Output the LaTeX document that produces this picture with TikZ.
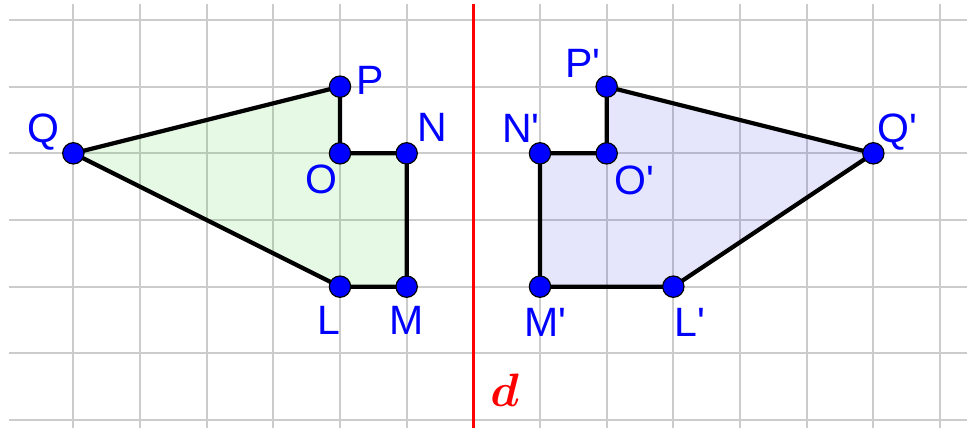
\RequirePackage{fix-cm}
\documentclass[tikz,border=0pt]{standalone}
\usepackage{fontspec}
\newfontfamily\lblfont{Liberation Sans}
\definecolor{gridgray}{RGB}{204,204,204}
\definecolor{ptblue}{RGB}{0,0,255}
\definecolor{fillgreen}{RGB}{0,200,0}
\definecolor{fillblue}{RGB}{0,0,220}
\tikzset{
  gridline/.style={gridgray, line width=1.6pt},
  poly/.style={black, line width=3.6pt, line join=round},
  dot/.style={circle, draw=black, line width=1pt, fill=ptblue, minimum size=0.64cm, inner sep=0pt},
  lbl/.style={text=ptblue, font=\lblfont\fontsize{35}{35}\selectfont, inner sep=0pt},
  axis/.style={red, line width=2.6pt}
}
\begin{document}
\begin{tikzpicture}[x=2cm,y=2cm]
\useasboundingbox[fill=white] (-1.1,-0.12) rectangle (13.405,6.3);
% grid
\foreach \y in {0,...,6} \draw[gridline] (-0.965,\y) -- (13.405,\y);
\foreach \x in {0,...,13} \draw[gridline] (\x,-0.12) -- (\x,6.24);
% points
\coordinate (Q) at (0,4);
\coordinate (P) at (4,5);
\coordinate (O) at (4,4);
\coordinate (N) at (5,4);
\coordinate (M) at (5,2);
\coordinate (L) at (4,2);
\coordinate (Q1) at (12,4);
\coordinate (P1) at (8,5);
\coordinate (O1) at (8,4);
\coordinate (N1) at (7,4);
\coordinate (M1) at (7,2);
\coordinate (L1) at (9,2);
% fills
\fill[fillgreen, fill opacity=0.1] (Q) -- (P) -- (O) -- (N) -- (M) -- (L) -- cycle;
\fill[fillblue, fill opacity=0.1] (Q1) -- (P1) -- (O1) -- (N1) -- (M1) -- (L1) -- cycle;
% outlines
\draw[poly] (Q) -- (P) -- (O) -- (N) -- (M) -- (L) -- cycle;
\draw[poly] (Q1) -- (P1) -- (O1) -- (N1) -- (M1) -- (L1) -- cycle;
% mirror line
\coordinate (dtop) at (6,6.24);
\coordinate (dbot) at (6,-0.12);
\draw[axis] (dbot) -- (dtop);
% dots
\foreach \p in {Q,P,O,N,M,L,Q1,P1,O1,N1,M1,L1} \node[dot] (dot\p) at (\p) {};
% labels
\node[lbl] (lQ) at (-0.455,4.32) {Q};
\node[lbl] (lP) at (4.45,5.1) {P};
\node[lbl] (lN) at (5.38,4.395) {N};
\node[lbl] (lO) at (3.715,3.615) {O};
\node[lbl] (lL) at (3.835,1.5) {L};
\node[lbl] (lM) at (5.0,1.5) {M};
\node[lbl] (lP1) at (7.645,5.355) {P'};
\node[lbl] (lN1) at (6.715,4.38) {N'};
\node[lbl] (lO1) at (8.41,3.6) {O'};
\node[lbl] (lM1) at (7.075,1.47) {M'};
\node[lbl] (lL1) at (9.25,1.47) {L'};
\node[lbl] (lQ1) at (12.355,4.32) {Q'};
\node[text=red, inner sep=0pt, font=\fontsize{40}{40}\selectfont\boldmath] (ld) at (6.47,0.45) {$d$};
\end{tikzpicture}
\end{document}
